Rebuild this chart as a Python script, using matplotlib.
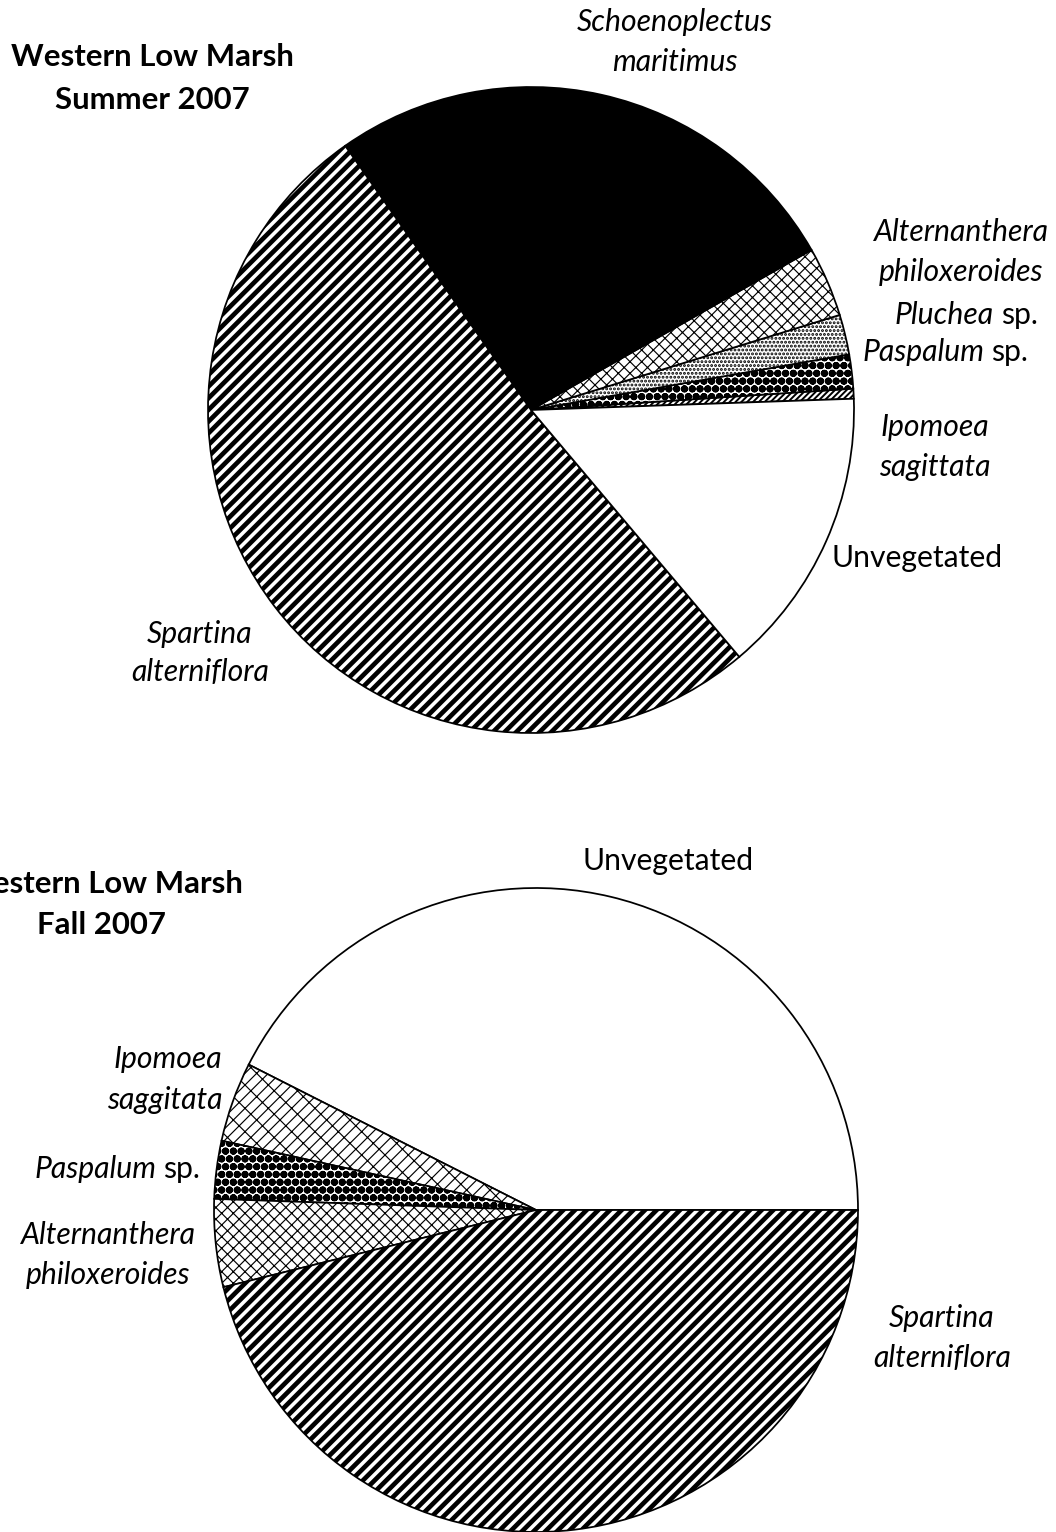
import matplotlib
matplotlib.use("Agg")
import matplotlib.pyplot as plt

plt.rcParams["font.family"] = ["Lato", "DejaVu Sans"]

# percent cover, listed counterclockwise as the slices are drawn
summer_species = [
    "Ipomoea sagittata",
    "Paspalum sp.",
    "Pluchea sp.",
    "Alternanthera philoxeroides",
    "Schoenoplectus maritimus",
    "Spartina alterniflora",
    "Unvegetated",
]
summer_cover = [0.5, 1.7, 2.0, 3.5, 26.5, 51.4, 14.4]

fall_species = [
    "Unvegetated",
    "Ipomoea saggitata",
    "Paspalum sp.",
    "Alternanthera philoxeroides",
    "Spartina alterniflora",
]
fall_cover = [42.5, 4.0, 2.9, 4.4, 46.1]

# fill / hatch / hatch linewidth per species
styles = {
    "Unvegetated": ("white", "", 0.8),
    "Spartina alterniflora": ("white", "////", 2.4),
    "Schoenoplectus maritimus": ("black", "", 0.8),
    "Alternanthera philoxeroides": ("white", "xxxx", 0.6),
    "Pluchea sp.": ("white", "......", 1.0),
    "Paspalum sp.": ("white", "OOO...", 0.9),
    "Ipomoea sagittata": ("white", "////////", 1.0),
    "Ipomoea saggitata": ("white", "xx//", 0.6),
}

DPI = 140
W, H = 1056, 1532
fig = plt.figure(figsize=(W / DPI, H / DPI), dpi=DPI)
ax = fig.add_axes([0, 0, 1, 1])


def draw_pie(species, cover, center, radius, start):
    wedges, _ = ax.pie(
        cover,
        center=center,
        radius=radius,
        startangle=start,
        counterclock=True,
        frame=True,
        wedgeprops=dict(edgecolor="black", linewidth=0.9),
    )
    for w, name in zip(wedges, species):
        fc, hatch, hlw = styles[name]
        w.set_facecolor(fc)
        w.set_hatch(hatch)
        if hasattr(w, "set_hatch_linewidth"):
            w.set_hatch_linewidth(hlw)


draw_pie(summer_species, summer_cover, (531, H - 410), 323, 2)
draw_pie(fall_species, fall_cover, (536, H - 1210), 322, 0)
ax.set_xlim(0, W)
ax.set_ylim(0, H)
ax.set_aspect("equal")
ax.axis("off")

FS = 15.5
renderer = fig.canvas.get_renderer()


def label(x, y, italic="", plain="", bold=False, size=FS):
    # x, y: centre of the text line in reference pixel coords (y from top)
    y = H - y
    kw = dict(fontsize=size, va="center", ha="left")
    if bold:
        kw["fontweight"] = "bold"
    parts = []
    if italic:
        parts.append(ax.text(0, y, italic, style="italic", **kw))
    if plain:
        parts.append(ax.text(0, y, plain, **kw))
    gap = 7 if (italic and plain) else 0
    widths = [p.get_window_extent(renderer).width for p in parts]
    x0 = x - (sum(widths) + gap) / 2
    for p, wd in zip(parts, widths):
        p.set_x(x0)
        x0 += wd + gap


# Summer 2007
label(152, 57, plain="Western Low Marsh", bold=True, size=16)
label(152, 100, plain="Summer 2007", bold=True, size=16)
label(675, 22, italic="Schoenoplectus")
label(675, 62, italic="maritimus")
label(961, 232, italic="Alternanthera")
label(961, 272, italic="philoxeroides")
label(966, 315, italic="Pluchea", plain="sp.")
label(945, 352, italic="Paspalum", plain="sp.")
label(935, 427, italic="Ipomoea")
label(935, 467, italic="sagittata")
label(917, 558, plain="Unvegetated")
label(200, 634, italic="Spartina")
label(200, 672, italic="alterniflora")

# Fall 2007 (title runs off the left edge, as in the original)
label(101, 884, plain="Western Low Marsh", bold=True, size=16)
label(101, 925, plain="Fall 2007", bold=True, size=16)
label(668, 861, plain="Unvegetated")
label(168, 1059, italic="Ipomoea")
label(165, 1100, italic="saggitata")
label(117, 1169, italic="Paspalum", plain="sp.")
label(108, 1235, italic="Alternanthera")
label(108, 1275, italic="philoxeroides")
label(942, 1318, italic="Spartina")
label(942, 1358, italic="alterniflora")

fig.savefig("out.png", dpi=DPI)
